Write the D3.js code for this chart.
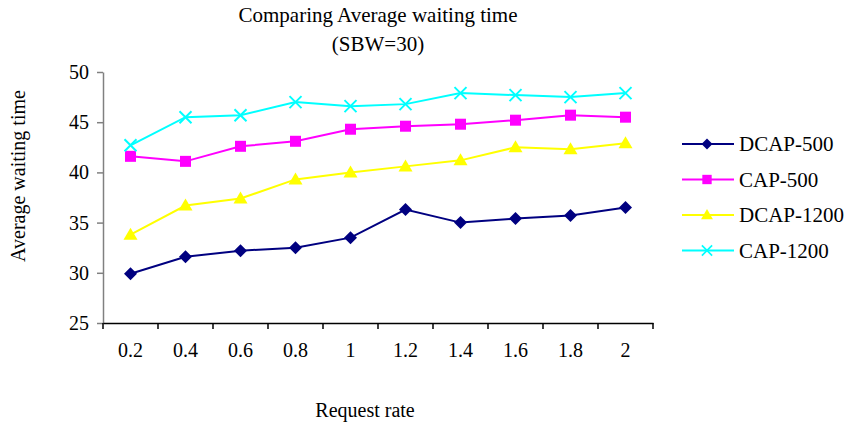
<!DOCTYPE html>
<html>
<head>
<meta charset="UTF-8">
<title>Comparing Average waiting time</title>
<style>
  body { margin: 0; background: #fff; }
  svg { display: block; }
</style>
</head>
<body>
<div id="chart"></div>
<script src="https://d3js.org/d3.v7.min.js"></script>
<script>
const rates = ["0.2", "0.4", "0.6", "0.8", "1", "1.2", "1.4", "1.6", "1.8", "2"];
const dcap500  = [29.9, 31.6, 32.2, 32.5, 33.5, 36.3, 35.0, 35.4, 35.7, 36.5];
const cap500   = [41.6, 41.1, 42.6, 43.1, 44.3, 44.6, 44.8, 45.2, 45.7, 45.5];
const dcap1200 = [33.8, 36.7, 37.4, 39.3, 40.0, 40.6, 41.2, 42.5, 42.3, 42.9];
const cap1200  = [42.7, 45.5, 45.7, 47.0, 46.6, 46.8, 47.9, 47.7, 47.5, 47.9];
const yTicks = [25, 30, 35, 40, 45, 50];

const series = [
  {name: "DCAP-500", values: dcap500, color: "#000080", symbol: "diamond"},
  {name: "CAP-500", values: cap500, color: "#ff00ff", symbol: "square"},
  {name: "DCAP-1200", values: dcap1200, color: "#ffff00", symbol: "triangle"},
  {name: "CAP-1200", values: cap1200, color: "#00ffff", symbol: "cross"}
];

const FONT = "Liberation Serif";
const width = 851, height = 425;
const svg = d3.select("#chart").append("svg").attr("width", width).attr("height", height)
  .attr("font-family", FONT);

const x = d3.scaleBand().domain(rates).range([103, 653]);
const y = d3.scaleLinear().domain([25, 50]).range([323, 72]);

// y axis (grey)
const yAxis = svg.append("g")
  .attr("transform", "translate(103,0)")
  .call(d3.axisLeft(y).tickValues(yTicks).tickSize(6).tickSizeOuter(0).tickPadding(8));
yAxis.select(".domain").attr("stroke", "#808080").attr("stroke-width", 1.5);
yAxis.selectAll(".tick line").attr("stroke", "#808080").attr("stroke-width", 1.5);

// x axis (black), ticks between categories
const xAxis = svg.append("g")
  .attr("transform", "translate(0,323)")
  .call(d3.axisBottom(x).tickSize(0).tickPadding(20));
xAxis.select(".domain").attr("stroke", "#000").attr("stroke-width", 1.5);
svg.append("g").selectAll("line")
  .data(d3.range(rates.length + 1))
  .join("line")
  .attr("x1", i => 103 + i * x.bandwidth())
  .attr("x2", i => 103 + i * x.bandwidth())
  .attr("y1", 323).attr("y2", 329)
  .attr("stroke", "#000").attr("stroke-width", 1.5);
svg.selectAll(".tick text").attr("font-family", FONT).attr("font-size", 20).attr("fill", "#000");

function marker(sel, s) {
  if (s.symbol === "diamond") {
    sel.append("path").attr("d", "M0,-6.5L6.5,0L0,6.5L-6.5,0Z").attr("fill", s.color);
  } else if (s.symbol === "square") {
    sel.append("rect").attr("x", -5.5).attr("y", -5.5).attr("width", 11).attr("height", 11).attr("fill", s.color);
  } else if (s.symbol === "triangle") {
    sel.append("path").attr("d", "M0,-7L7,5L-7,5Z").attr("fill", s.color);
  } else {
    sel.append("path").attr("d", "M-6,-6L6,6M-6,6L6,-6").attr("stroke", s.color).attr("stroke-width", 2).attr("fill", "none");
  }
}

const line = d3.line().x((d, i) => x(rates[i]) + x.bandwidth() / 2).y(d => y(d));

series.forEach(s => {
  svg.append("path").datum(s.values)
    .attr("d", line).attr("fill", "none")
    .attr("stroke", s.color).attr("stroke-width", 2);
  s.values.forEach((v, i) => {
    const g = svg.append("g").attr("transform", `translate(${x(rates[i]) + x.bandwidth() / 2},${y(v)})`);
    marker(g, s);
  });
});

// legend
series.forEach((s, i) => {
  const ly = 144 + i * 35.5;
  svg.append("line").attr("x1", 682).attr("x2", 734).attr("y1", ly).attr("y2", ly)
    .attr("stroke", s.color).attr("stroke-width", 2);
  marker(svg.append("g").attr("transform", `translate(707,${ly}) scale(0.85)`), s);
  svg.append("text").attr("x", 739).attr("y", ly + 7).attr("font-size", 21).text(s.name);
});

// titles
svg.append("text").attr("x", 378).attr("y", 22).attr("text-anchor", "middle").attr("font-size", 21)
  .text("Comparing Average waiting time");
svg.append("text").attr("x", 378).attr("y", 51).attr("text-anchor", "middle").attr("font-size", 21)
  .text("(SBW=30)");
svg.append("text").attr("x", 365).attr("y", 417).attr("text-anchor", "middle").attr("font-size", 20)
  .text("Request rate");
svg.append("text").attr("transform", "translate(25,176) rotate(-90)").attr("text-anchor", "middle").attr("font-size", 20)
  .text("Average waiting time");
</script>
</body>
</html>
